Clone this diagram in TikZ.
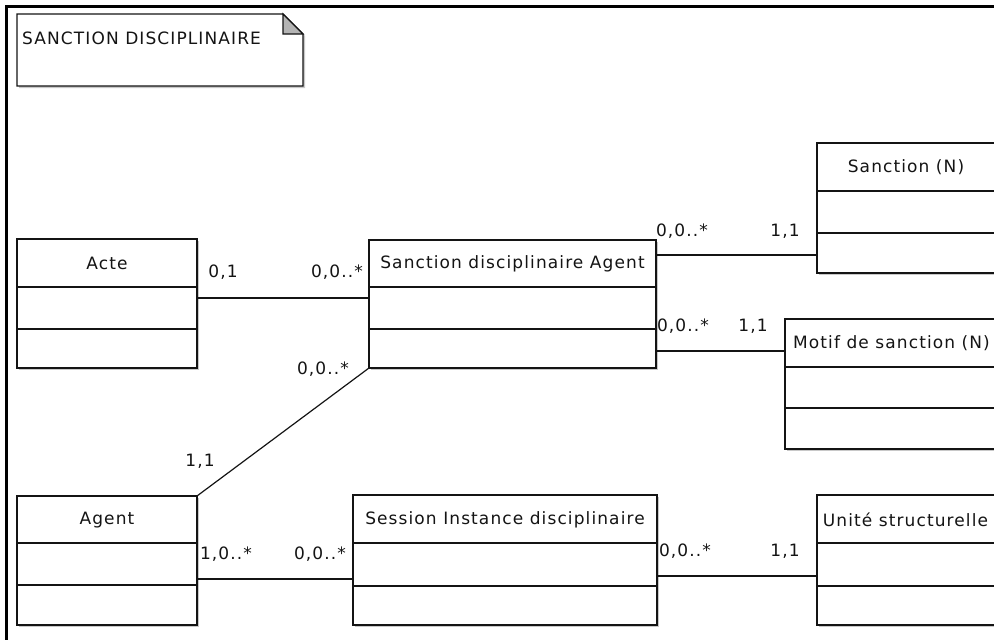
\documentclass[tikz,border=0pt]{standalone}
\usepackage{fontspec}
\setmainfont{DejaVu Sans}[LetterSpace=6.5]
\usetikzlibrary{calc}

\definecolor{ink}{HTML}{141414}
\definecolor{shadowc}{HTML}{C8C8C8}
\definecolor{foldc}{HTML}{B4B4B4}

\tikzset{
  cls/.style={draw=ink, line width=1.4pt, fill=white, inner sep=0pt, outer sep=0pt, rectangle},
  divider/.style={draw=ink, line width=1.4pt},
  link/.style={draw=ink, line width=1.2pt},
  title/.style={inner sep=0pt, text=ink, font=\fontsize{17}{19}\selectfont},
  card/.style={inner sep=0pt, text=ink, font=\fontsize{17}{19}\selectfont},
}

% class box: name, left, top, right, bottom, first divider, second divider
\newcommand\umlbox[7]{%
  \fill[shadowc] (#2+2,#3+2) rectangle (#4+2,#5+2);
  \node[cls, minimum width={(#4-#2)*1pt}, minimum height={(#5-#3)*1pt}, anchor=north west] (#1) at (#2,#3) {};
  \draw[divider] (#1.west |- 0,#6) -- (#1.east |- 0,#6);
  \draw[divider] (#1.west |- 0,#7) -- (#1.east |- 0,#7);
}

\begin{document}
\begin{tikzpicture}[x=1pt, y=-1pt]
  \useasboundingbox (0,0) rectangle (994,640);
  \clip (0,0) rectangle (994,640);
  \fill[white] (0,0) rectangle (994,640);

  % outer frame
  \draw[black, line width=3pt] (6.5,645) -- (6.5,6.5) -- (1000,6.5);

  % package note with folded corner
  \fill[shadowc] (19,16) -- (285,16) -- (305,36) -- (305,88) -- (19,88) -- cycle;
  \draw[ink, line width=1.3pt, fill=white] (17,14) -- (283,14) -- (303,34) -- (303,86) -- (17,86) -- cycle;
  \draw[ink, line width=1.1pt, fill=foldc] (283,14) -- (283,34) -- (303,34) -- cycle;
  \node[title, anchor=west] (notetext) at (22,38.5) {SANCTION DISCIPLINAIRE};

  % classes
  \umlbox{acte}{17}{239}{197}{368}{287}{329}
  \node[title] (acteT) at (107,263.5) {Acte};

  \umlbox{sda}{369}{240}{656}{368}{287}{329}
  \node[title] (sdaT) at (512.5,263.5) {Sanction disciplinaire Agent};

  \umlbox{sanc}{817}{143}{1010}{273}{191}{233}
  \node[title] (sancT) at (906,167) {Sanction (N)};

  \umlbox{motif}{785}{319}{1010}{449}{367}{408}
  \node[title, anchor=west] (motifT) at (793,343) {Motif de sanction (N)};

  \umlbox{agent}{17}{496}{197}{625}{543}{585}
  \node[title] (agentT) at (107,520) {Agent};

  \umlbox{sess}{353}{495}{657}{625}{543}{586}
  \node[title] (sessT) at (505,520) {Session Instance disciplinaire};

  \umlbox{unite}{817}{495}{1010}{625}{543}{586}
  \node[title] (uniteT) at (905.5,520) {Unité structurelle};

  % associations
  \draw[link] (acte.east |- 0,298) -- (sda.west |- 0,298);
  \draw[link] (sda.east |- 0,255) -- (sanc.west |- 0,255);
  \draw[link] (sda.east |- 0,351) -- (motif.west |- 0,351);
  \draw[link] (agent.north east) -- (sda.south west);
  \draw[link] (agent.east |- 0,579) -- (sess.west |- 0,579);
  \draw[link] (sess.east |- 0,576) -- (unite.west |- 0,576);

  % multiplicities
  \node[card] (c1) at (223,272) {0,1};
  \node[card] (c2) at (337,272) {0,0..*};
  \node[card] (c3) at (323,369) {0,0..*};
  \node[card] (c4) at (200,461) {1,1};
  \node[card] (c5) at (682,231) {0,0..*};
  \node[card] (c6) at (785,231) {1,1};
  \node[card] (c7) at (683,326) {0,0..*};
  \node[card] (c8) at (753,326) {1,1};
  \node[card] (c9) at (226,554) {1,0..*};
  \node[card] (c10) at (320,554) {0,0..*};
  \node[card] (c11) at (685,551) {0,0..*};
  \node[card] (c12) at (785,551) {1,1};
\end{tikzpicture}
\end{document}
